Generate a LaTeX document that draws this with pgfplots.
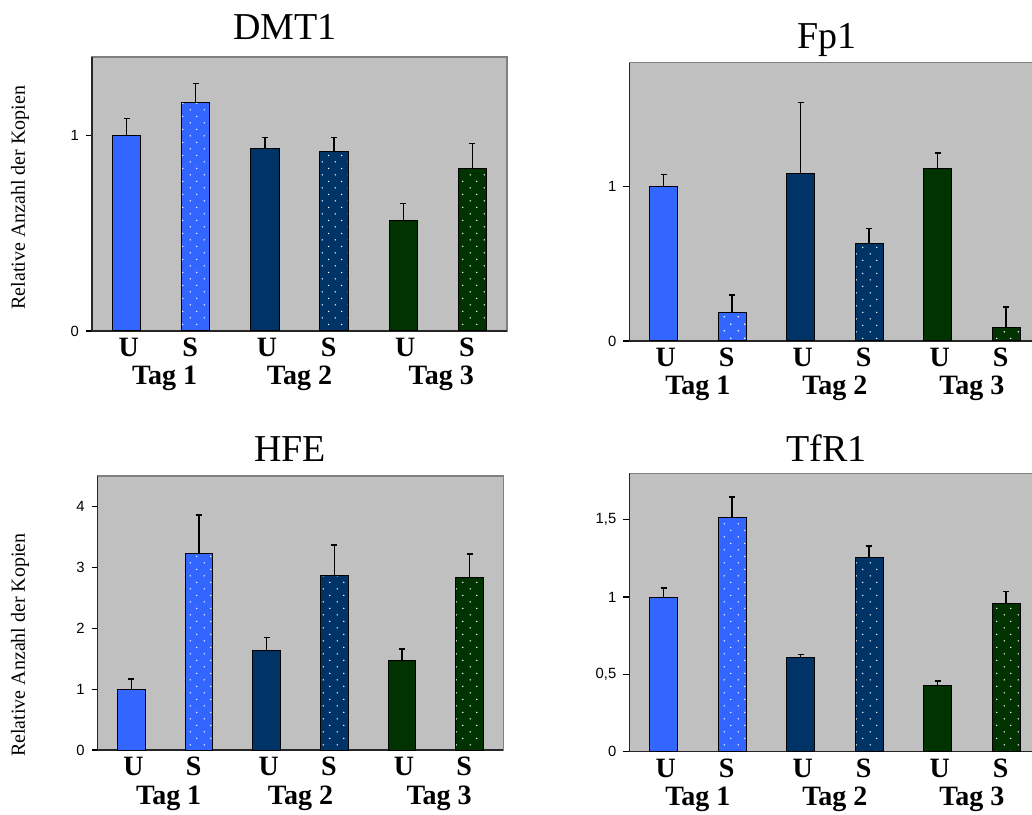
\documentclass[border=0pt]{standalone}
\usepackage{fontspec}
\setmainfont{Liberation Serif}
\setsansfont{Liberation Sans}
\usepackage{pgfplots}
\pgfplotsset{compat=1.18}
\usetikzlibrary{patterns.meta}
\definecolor{cA}{HTML}{3366FF}
\definecolor{cB}{HTML}{003366}
\definecolor{cC}{HTML}{003300}
\definecolor{bg}{HTML}{C0C0C0}
\definecolor{bord}{HTML}{808080}

\tikzdeclarepattern{
  name=wdots,
  type=uncolored,
  bounding box={(0pt,0pt) and (6.67pt,6.67pt)},
  tile size={(6.67pt,6.67pt)},
  code={
    \pgfpathcircle{\pgfqpoint{1.67pt}{1.67pt}}{0.4pt}
    \pgfpathcircle{\pgfqpoint{5pt}{5pt}}{0.4pt}
    \pgfusepath{fill}
  }
}

\tikzset{
  tagf/.style={font=\bfseries\fontsize{14}{16}\selectfont, anchor=base},
  ylab/.style={rotate=90, font=\fontsize{10}{12}\selectfont, anchor=center},
}

\pgfplotsset{
  panel/.style={
    scale only axis, anchor=south west,
    xmin=-0.5, xmax=5.5, ymin=0, enlargelimits=false,
    clip=false,
    axis background/.style={fill=bg, draw=bord, line width=0.6pt},
    axis x line*=bottom, axis y line*=left,
    axis line style={-, black!85, line width=0.7pt},
    tick align=outside, major tick length=3pt,
    xtick={0.03,0.92,2.03,2.92,4.03,4.92},
    xticklabels={U,S,U,S,U,S},
    xtick style={draw=none},
    ytick style={black, line width=0.6pt},
    xticklabel style={font=\bfseries\fontsize{14}{16}\selectfont, inner sep=0pt, anchor=base, yshift=-9.8pt},
    yticklabel style={font=\sffamily\fontsize{7.4}{9}\selectfont},
    title style={font=\fontsize{19}{22}\selectfont, anchor=base},
  },
  bb/.style={ybar, bar width=0.41, bar shift=0pt, draw=black, line width=0.5pt},
  sU/.style={bb, fill=#1},
  sS/.style={bb, fill=#1, postaction={pattern=wdots, pattern color=white}},
  eb/.style={error bars/.cd, y dir=plus, y explicit,
    error bar style={line width=0.7pt, black},
    error mark options={rotate=90, mark size=1.5pt, line width=0.7pt, black}},
}

\begin{document}
\begin{tikzpicture}
% ---------- DMT1 ----------
\begin{axis}[panel, at={(46pt,241.5pt)}, width=207.5pt, height=137pt,
  ymax=1.4, ytick={0,1}, yticklabels={0,1},
  title={DMT1}, title style={at={(0.465,1)}, yshift=2.5pt}]
\addplot[sU=cA, eb] coordinates {(0,1.0) +- (0,0.086)};
\addplot[sS=cA, eb] coordinates {(1,1.17) +- (0,0.095)};
\addplot[sU=cB, eb] coordinates {(2,0.93) +- (0,0.06)};
\addplot[sS=cB, eb] coordinates {(3,0.915) +- (0,0.075)};
\addplot[sU=cC, eb] coordinates {(4,0.563) +- (0,0.087)};
\addplot[sS=cC, eb] coordinates {(5,0.83) +- (0,0.127)};
\node[tagf] at ([yshift=-27pt]axis cs:0.55,0) {Tag 1};
\node[tagf] at ([yshift=-27pt]axis cs:2.5,0) {Tag 2};
\node[tagf] at ([yshift=-27pt]axis cs:4.55,0) {Tag 3};
\node[ylab] at ([xshift=-36pt]axis description cs:0,0.487) {Relative Anzahl der Kopien};
\end{axis}
% ---------- Fp1 ----------
\begin{axis}[panel, at={(314.65pt,236.5pt)}, width=205.5pt, height=139.15pt,
  ymax=1.8, ytick={0,1}, yticklabels={0,1},
  title={Fp1}, title style={at={(0.48,1)}, yshift=1.2pt}]
\addplot[sU=cA, eb] coordinates {(0,1.0) +- (0,0.077)};
\addplot[sS=cA, eb] coordinates {(1,0.185) +- (0,0.112)};
\addplot[sU=cB, eb] coordinates {(2,1.086) +- (0,0.458)};
\addplot[sS=cB, eb] coordinates {(3,0.63) +- (0,0.097)};
\addplot[sU=cC, eb] coordinates {(4,1.118) +- (0,0.099)};
\addplot[sS=cC, eb] coordinates {(5,0.086) +- (0,0.133)};
\node[tagf] at ([yshift=-27pt]axis cs:0.5,0) {Tag 1};
\node[tagf] at ([yshift=-27pt]axis cs:2.5,0) {Tag 2};
\node[tagf] at ([yshift=-27pt]axis cs:4.5,0) {Tag 3};
\end{axis}
% ---------- HFE ----------
\begin{axis}[panel, at={(48.85pt,32pt)}, width=202.8pt, height=137pt,
  ymax=4.5, ytick={0,1,2,3,4}, yticklabels={0,1,2,3,4},
  title={HFE}, title style={at={(0.474,1)}, yshift=1.2pt}]
\addplot[sU=cA, eb] coordinates {(0,1.0) +- (0,0.164)};
\addplot[sS=cA, eb] coordinates {(1,3.22) +- (0,0.64)};
\addplot[sU=cB, eb] coordinates {(2,1.63) +- (0,0.22)};
\addplot[sS=cB, eb] coordinates {(3,2.87) +- (0,0.50)};
\addplot[sU=cC, eb] coordinates {(4,1.465) +- (0,0.195)};
\addplot[sS=cC, eb] coordinates {(5,2.84) +- (0,0.38)};
\node[tagf] at ([yshift=-27pt]axis cs:0.55,0) {Tag 1};
\node[tagf] at ([yshift=-27pt]axis cs:2.5,0) {Tag 2};
\node[tagf] at ([yshift=-27pt]axis cs:4.55,0) {Tag 3};
\node[ylab] at ([xshift=-38.85pt]axis description cs:0,0.383) {Relative Anzahl der Kopien};
\end{axis}
% ---------- TfR1 ----------
\begin{axis}[panel, at={(314.65pt,31.15pt)}, width=205.5pt, height=139.2pt,
  ymax=1.8, ytick={0,0.5,1,1.5}, yticklabels={0,{0,5},1,{1,5}},
  title={TfR1}, title style={at={(0.48,1)}, yshift=-0.2pt}]
\addplot[sU=cA, eb] coordinates {(0,1.0) +- (0,0.058)};
\addplot[sS=cA, eb] coordinates {(1,1.515) +- (0,0.131)};
\addplot[sU=cB, eb] coordinates {(2,0.609) +- (0,0.021)};
\addplot[sS=cB, eb] coordinates {(3,1.253) +- (0,0.077)};
\addplot[sU=cC, eb] coordinates {(4,0.426) +- (0,0.032)};
\addplot[sS=cC, eb] coordinates {(5,0.961) +- (0,0.076)};
\node[tagf] at ([yshift=-27pt]axis cs:0.5,0) {Tag 1};
\node[tagf] at ([yshift=-27pt]axis cs:2.5,0) {Tag 2};
\node[tagf] at ([yshift=-27pt]axis cs:4.5,0) {Tag 3};
\end{axis}
\pgfresetboundingbox
\path[use as bounding box] (0,0) rectangle (516pt,407pt);
\end{tikzpicture}
\end{document}
